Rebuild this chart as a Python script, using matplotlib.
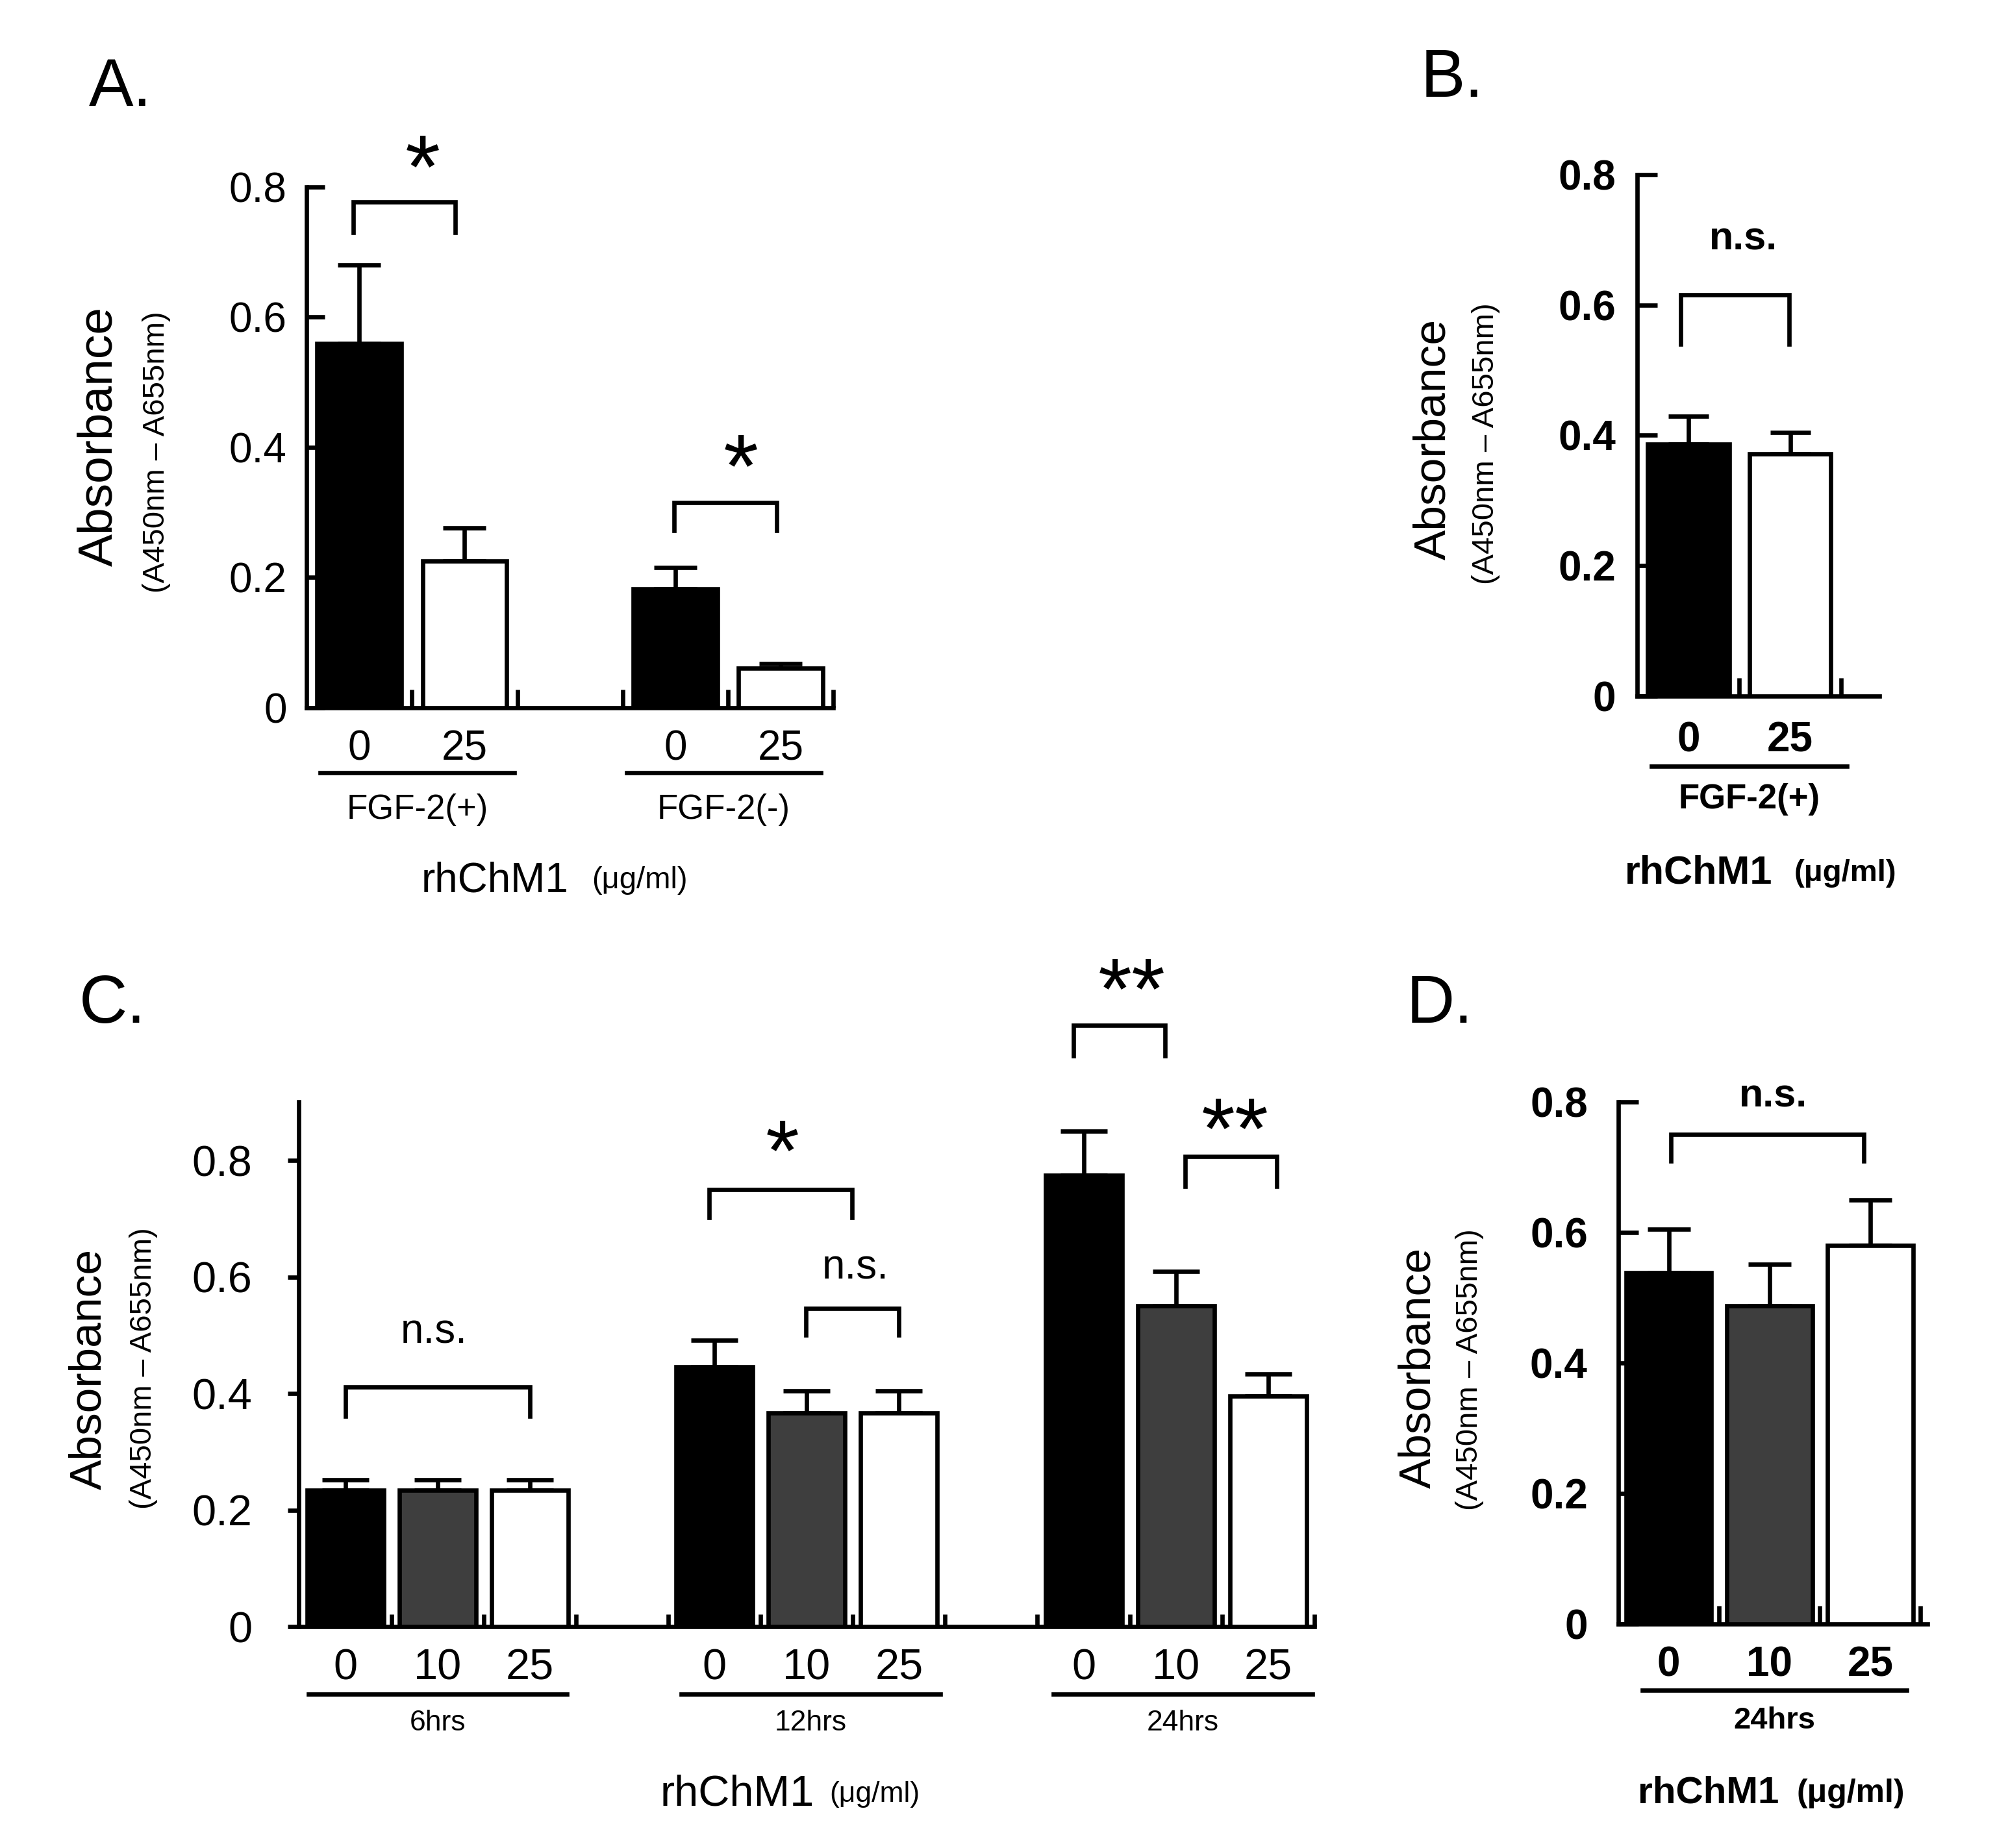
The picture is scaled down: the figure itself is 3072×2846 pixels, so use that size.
import matplotlib
matplotlib.use("Agg")
import matplotlib.pyplot as plt
import numpy as np

# ---- data ----
a_doses = ["0", "25"]
a_groups = ["FGF-2(+)", "FGF-2(-)"]
a_means = [[0.56, 0.225], [0.182, 0.061]]
a_sem = [[0.12, 0.051], [0.033, 0.007]]

b_doses = ["0", "25"]
b_groups = ["FGF-2(+)"]
b_means = [[0.386, 0.371]]
b_sem = [[0.043, 0.033]]

c_doses = ["0", "10", "25"]
c_groups = ["6hrs", "12hrs", "24hrs"]
c_means = [[0.234, 0.234, 0.234], [0.446, 0.367, 0.367], [0.774, 0.551, 0.396]]
c_sem = [[0.018, 0.018, 0.018], [0.046, 0.037, 0.037], [0.076, 0.059, 0.037]]

d_doses = ["0", "10", "25"]
d_groups = ["24hrs"]
d_means = [[0.539, 0.488, 0.580]]
d_sem = [[0.066, 0.064, 0.070]]

LW = 2.4


def bars(ax, doses, means, sem, width, capsize):
    n = len(doses)
    fills = ["black", "#3e3e3e", "white"] if n == 3 else ["black", "white"]
    ticks, labels = [], []
    for g, (m, s) in enumerate(zip(means, sem)):
        x = np.arange(n) + g * (n + 1)
        ax.bar(x, m, width=width, color=fills, edgecolor="black", linewidth=LW, zorder=3)
        ax.errorbar(x, m, yerr=[np.zeros(n), s], fmt="none", ecolor="black",
                    elinewidth=LW, capsize=capsize, capthick=LW, zorder=2)
        ticks += list(x)
        labels += doses
    return ticks, labels


def style(ax, ticks, labels, ncat, xmax, ylim, font, tsize, ydir, ylen, ypad, xpad, mlen):
    for s in ["top", "right"]:
        ax.spines[s].set_visible(False)
    for s in ["left", "bottom"]:
        ax.spines[s].set_linewidth(LW)
    ax.set_xlim(-0.5, xmax)
    ax.set_ylim(*ylim)
    ax.set_yticks([0, 0.2, 0.4, 0.6, 0.8])
    ax.set_yticklabels(["0", "0.2", "0.4", "0.6", "0.8"], **font, fontsize=tsize)
    ax.set_xticks(ticks)
    ax.set_xticklabels(labels, **font, fontsize=tsize)
    ax.set_xticks(np.arange(ncat) + 0.5, minor=True)
    ax.tick_params(axis="y", direction=ydir, length=ylen, width=LW, pad=ypad)
    ax.tick_params(axis="x", which="major", length=0, pad=xpad)
    ax.tick_params(axis="x", which="minor", direction="in", length=mlen, width=LW)


def underline(ax, x0, x1, y, label, ly, font, size):
    tr = ax.get_xaxis_transform()
    ax.plot([x0, x1], [y, y], color="black", lw=LW, transform=tr, clip_on=False)
    ax.text((x0 + x1) / 2, ly, label, transform=tr, ha="center", va="center",
            fontsize=size, **font)


def bracket(ax, x0, x1, y, drop, text, tx, ty, font, size):
    ax.plot([x0, x0, x1, x1], [y - drop, y, y, y - drop], color="black", lw=LW,
            clip_on=False, solid_joinstyle="miter")
    ax.text(tx, ty, text, ha="center", va="center", fontsize=size, clip_on=False, **font)


fig = plt.figure(figsize=(15.36, 14.23), dpi=200)

normal = dict(family="Liberation Sans")
bold = dict(family="Liberation Sans", weight="bold")
narrow = dict(family="Liberation Sans")

# ---- A ----
axA = fig.add_axes([0.1537, 0.6171, 0.2640, 0.2817])
t, l = bars(axA, a_doses, a_means, a_sem, 0.8, 12)
style(axA, t, l, 5, 4.5, (0, 0.8), normal, 23, "in", 10, 11, 12, 10)
underline(axA, -0.37, 1.47, -0.125, a_groups[0], -0.196, normal, 19)
underline(axA, 2.54, 4.38, -0.125, a_groups[1], -0.196, normal, 19)
bracket(axA, -0.06, 0.91, 0.777, 0.047, "*", 0.6, 0.82, normal, 50)
bracket(axA, 2.99, 3.96, 0.315, 0.043, "*", 3.62, 0.36, normal, 50)

# ---- B ----
axB = fig.add_axes([0.8208, 0.6233, 0.1212, 0.2823])
t, l = bars(axB, b_doses, b_means, b_sem, 0.8, 11)
style(axB, t, l, 2, 1.875, (0, 0.8), bold, 23, "in", 11, 12, 14, 10)
underline(axB, -0.36, 1.56, -0.134, b_groups[0], -0.198, bold, 19)
bracket(axB, -0.075, 0.99, 0.615, 0.075, "n.s.", 0.54, 0.70, bold, 22)

# ---- C ----
axC = fig.add_axes([0.1499, 0.1198, 0.5089, 0.2838])
t, l = bars(axC, c_doses, c_means, c_sem, 0.83, 13)
style(axC, t, l, 11, 10.5, (0, 0.9), narrow, 24, "out", 6, 20, 12, 7)
for g, (x0, x1) in enumerate([(-0.40, 2.40), (3.64, 6.45), (7.67, 10.48)]):
    underline(axC, x0, x1, -0.129, c_groups[g], -0.184, narrow, 16)
bracket(axC, 0.0, 2.0, 0.411, 0.05, "n.s.", 0.96, 0.505, narrow, 23)
bracket(axC, 3.94, 5.49, 0.750, 0.048, "*", 4.74, 0.805, narrow, 48)
bracket(axC, 4.99, 6.0, 0.546, 0.046, "n.s.", 5.53, 0.616, narrow, 23)
bracket(axC, 7.89, 8.88, 1.032, 0.053, "**", 8.52, 1.083, narrow, 48)
bracket(axC, 9.1, 10.09, 0.807, 0.051, "**", 9.64, 0.843, narrow, 48)

# ---- D ----
axD = fig.add_axes([0.8112, 0.1212, 0.1550, 0.2824])
t, l = bars(axD, d_doses, d_means, d_sem, 0.85, 12)
style(axD, t, l, 3, 2.57, (0, 0.8), bold, 23, "in", 11, 17, 12, 10)
underline(axD, -0.26, 2.36, -0.127, d_groups[0], -0.185, bold, 17)
bracket(axD, 0.02, 1.94, 0.751, 0.041, "n.s.", 1.04, 0.808, bold, 22)

# ---- axis titles and panel letters ----
ylab = [(0.0497, 0.0784, 0.7638, 0.7555, 27), (0.7187, 0.7449, 0.7624, 0.7600, 25),
        (0.0446, 0.0721, 0.2590, 0.2597, 25), (0.7111, 0.7366, 0.2597, 0.2590, 25)]
for x1, x2, y1, y2, size in ylab:
    fig.text(x1, y1, "Absorbance", rotation=90, ha="center", va="center",
             fontsize=size, **normal)
    fig.text(x2, y2, "(A450nm \u2013 A655nm)", rotation=90, ha="center", va="center",
             fontsize=17, **normal)

units = [(normal, 0.2851, 0.2966, 1 - 692 / 1452, 23, 17),
         (bold, 0.8884, 0.8992, 1 - 686 / 1452, 22, 17),
         (narrow, 0.4082, 0.4158, 1 - 1410 / 1452, 24, 16),
         (bold, 0.8916, 0.9005, 1 - 1409 / 1452, 21, 18)]
for font, xr, xl, y, s1, s2 in units:
    fig.text(xr, y, "rhChM1", ha="right", va="center", fontsize=s1, **font)
    fig.text(xl, y, "(\u03bcg/ml)", ha="left", va="center", fontsize=s2, **font)

for letter, x, y in [("A.", 0.0446, 0.952), ("B.", 0.712, 0.957),
                     ("C.", 0.0395, 0.456), ("D.", 0.705, 0.456)]:
    fig.text(x, y, letter, ha="left", va="center", fontsize=37, **normal)

fig.savefig("out.png", dpi=200)
